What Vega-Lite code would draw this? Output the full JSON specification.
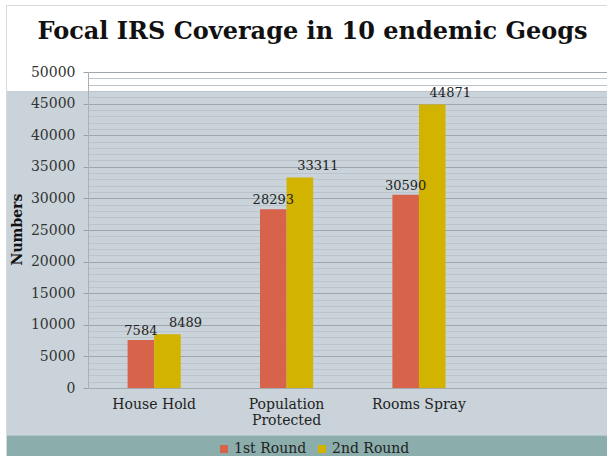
{
  "$schema": "https://vega.github.io/schema/vega-lite/v6.json",
  "width": 601,
  "height": 451,
  "autosize": "none",
  "padding": {"left": 6, "top": 5, "right": 0, "bottom": 0},
  "background": "#ffffff",
  "view": {
    "fill": {
      "gradient": "linear", "x1": 0, "y1": 0, "x2": 0, "y2": 1,
      "stops": [
        {"offset": 0, "color": "#ffffff"},
        {"offset": 0.1885, "color": "#ffffff"},
        {"offset": 0.1886, "color": "#c9d3d9"},
        {"offset": 0.9534, "color": "#c9d3d9"},
        {"offset": 0.9535, "color": "#8badab"},
        {"offset": 1, "color": "#8badab"}
      ]
    },
    "stroke": "#d5dadd",
    "strokeWidth": 1
  },
  "title": {
    "text": "Focal IRS Coverage in 10 endemic Geogs",
    "font": "DejaVu Serif",
    "fontSize": 24,
    "fontWeight": "bold",
    "color": "#111111",
    "anchor": "middle",
    "frame": "group",
    "offset": -39,
    "dx": 6
  },
  "data": {
    "values": [
      {"measure": "House Hold", "round": "1st Round", "value": 7584},
      {"measure": "House Hold", "round": "2nd Round", "value": 8489},
      {"measure": "Population Protected", "round": "1st Round", "value": 28293},
      {"measure": "Population Protected", "round": "2nd Round", "value": 33311},
      {"measure": "Rooms Spray", "round": "1st Round", "value": 30590},
      {"measure": "Rooms Spray", "round": "2nd Round", "value": 44871}
    ]
  },
  "encoding": {
    "x": {
      "field": "measure",
      "type": "nominal",
      "sort": ["House Hold", "Population Protected", "Rooms Spray"],
      "scale": {"range": [82, 601], "paddingInner": 0.197, "paddingOuter": 0.5585, "align": 0.088},
      "axis": {
        "title": null,
        "orient": "bottom",
        "offset": -68,
        "labelAngle": 0,
        "ticks": false,
        "grid": false,
        "domain": true,
        "domainColor": "#a3abb0",
        "labelPadding": 9,
        "labelFont": "DejaVu Serif",
        "labelFontSize": 14,
        "labelColor": "#222222",
        "labelLineHeight": 16,
        "labelExpr": "datum.label == 'Population Protected' ? ['Population', 'Protected'] : datum.label"
      }
    },
    "xOffset": {
      "field": "round",
      "type": "nominal",
      "scale": {"paddingInner": 0, "paddingOuter": 1}
    }
  },
  "layer": [
    {
      "mark": {"type": "bar"},
      "encoding": {
        "y": {
          "field": "value",
          "type": "quantitative",
          "scale": {"domain": [0, 50000], "range": [383, 67], "nice": false, "zero": true},
          "axis": {
            "orient": "left",
            "offset": -82,
            "values": [1000, 2000, 3000, 4000, 6000, 7000, 8000, 9000, 11000, 12000, 13000, 14000, 16000, 17000, 18000, 19000, 21000, 22000, 23000, 24000, 26000, 27000, 28000, 29000, 31000, 32000, 33000, 34000, 36000, 37000, 38000, 39000, 41000, 42000, 43000, 44000, 46000, 47000, 48000, 49000],
            "labels": false,
            "ticks": false,
            "domain": false,
            "title": null,
            "grid": true,
            "gridColor": "#bac4ca",
            "gridWidth": 1
          }
        },
        "color": {
          "field": "round",
          "type": "nominal",
          "scale": {"domain": ["1st Round", "2nd Round"], "range": ["#d6634a", "#d2b400"]},
          "legend": {
            "title": null,
            "orient": "none",
            "legendX": 211,
            "legendY": 437,
            "direction": "horizontal",
            "symbolType": "square",
            "symbolSize": 64,
            "symbolStrokeWidth": 0,
            "symbolOpacity": 1,
            "labelFont": "DejaVu Serif",
            "labelFontSize": 14,
            "labelColor": "#222222",
            "labelOffset": 3,
            "columnPadding": 8,
            "padding": 0
          }
        }
      }
    },
    {
      "transform": [{"filter": "datum.round == '1st Round'"}],
      "mark": {"type": "text", "font": "DejaVu Serif", "fontSize": 13, "color": "#222222", "baseline": "alphabetic", "dy": -5},
      "encoding": {
        "y": {
          "field": "value",
          "type": "quantitative",
          "axis": {
            "orient": "left",
            "offset": -82,
            "values": [0, 5000, 10000, 15000, 20000, 25000, 30000, 35000, 40000, 45000, 50000],
            "format": "d",
            "labelFont": "DejaVu Serif",
            "labelFontSize": 14,
            "labelColor": "#333333",
            "labelPadding": 8,
            "ticks": true,
            "tickSize": 5,
            "tickColor": "#9aa3a9",
            "domain": true,
            "domainColor": "#a9b1b6",
            "grid": true,
            "gridColor": "#9ea7ad",
            "gridWidth": 1.2,
            "title": "Numbers",
            "titleFont": "DejaVu Serif",
            "titleFontSize": 14,
            "titleFontWeight": "bold",
            "titleColor": "#111111",
            "titleX": -71,
            "titleY": 224,
            "titleAngle": 270,
            "titleAlign": "center",
            "titleBaseline": "middle"
          }
        },
        "text": {"field": "value", "type": "quantitative", "format": "d"}
      }
    },
    {
      "transform": [{"filter": "datum.round == '2nd Round'"}],
      "mark": {"type": "text", "font": "DejaVu Serif", "fontSize": 13, "color": "#222222", "baseline": "alphabetic", "dx": 18, "dy": -7},
      "encoding": {
        "y": {"field": "value", "type": "quantitative", "axis": null},
        "text": {"field": "value", "type": "quantitative", "format": "d"}
      }
    }
  ],
  "resolve": {"axis": {"y": "independent"}}
}
